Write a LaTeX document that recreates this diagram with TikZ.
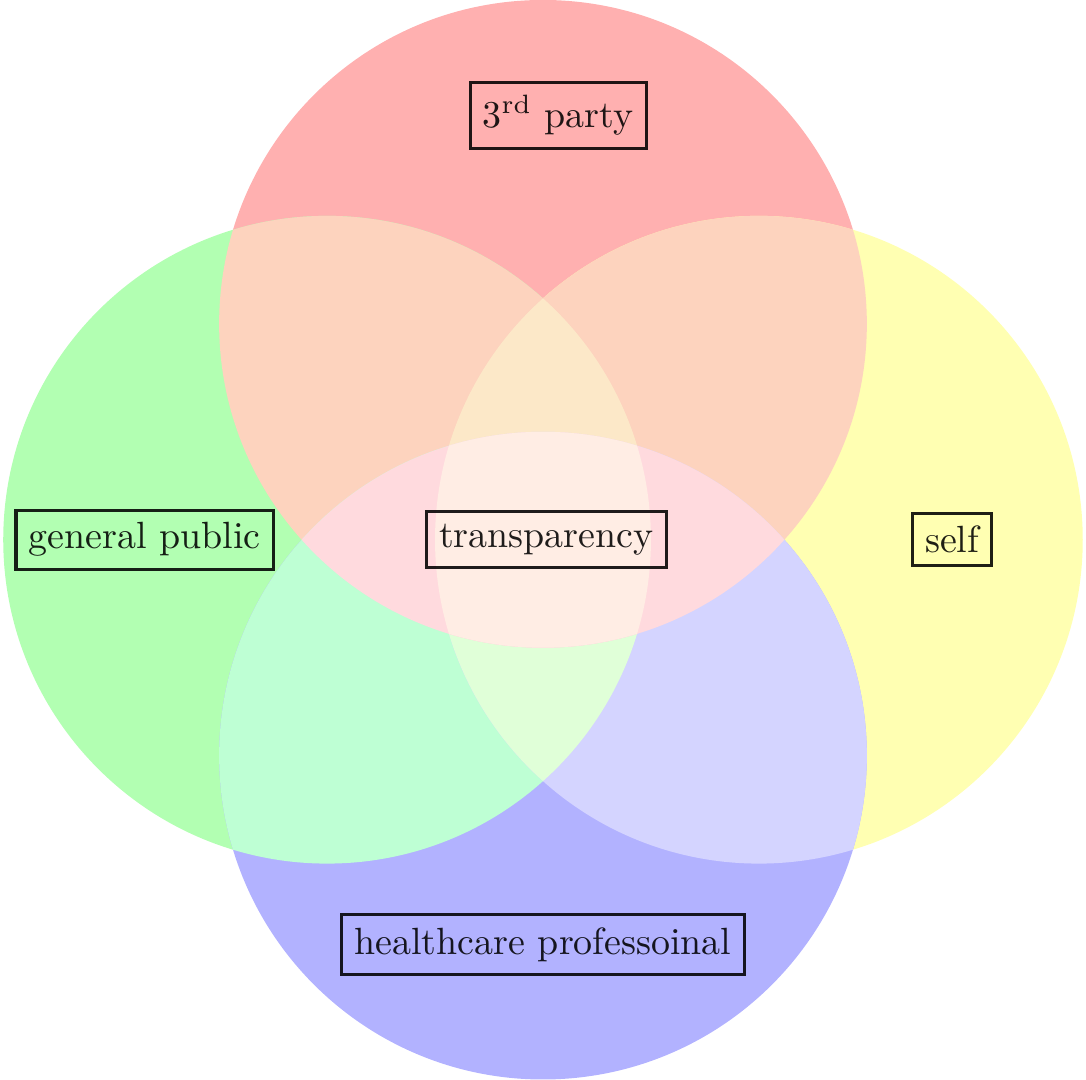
\documentclass[tikz,border=0pt]{standalone}
\usepackage{tikz}
\usetikzlibrary{positioning}
\definecolor{setred}{RGB}{255,176,176}
\definecolor{setgreen}{RGB}{178,255,178}
\definecolor{setyellow}{RGB}{255,255,178}
\definecolor{setblue}{RGB}{178,178,255}
\definecolor{peach}{RGB}{253,211,190}
\definecolor{mint}{RGB}{190,255,212}
\definecolor{lavender}{RGB}{212,212,255}
\definecolor{cream}{RGB}{252,232,200}
\definecolor{palegreen}{RGB}{224,255,216}
\definecolor{pink}{RGB}{255,218,222}
\definecolor{core}{RGB}{255,237,228}
\tikzset{lbl/.style = {draw, thick, opacity = 0.88, inner sep = 3.33pt}}

\begin{document}
\begin{tikzpicture}
      \useasboundingbox (-5.03, -5) rectangle (5.03, 5);
      \coordinate (top) at (0, 2);
      \coordinate (bottom) at (0, -2);
      \coordinate (left) at (-2, 0);
      \coordinate (right) at (2, 0);
      % one set
      \fill [setred] (top) circle [radius=3];
      \fill [setgreen] (left) circle [radius=3];
      \fill [setyellow] (right) circle [radius=3];
      \fill [setblue] (bottom) circle [radius=3];
      % two sets
      \begin{scope}
        \clip (top) circle [radius=3];
        \fill [peach] (left) circle [radius=3];
        \fill [peach] (right) circle [radius=3];
      \end{scope}
      \begin{scope}
        \clip (bottom) circle [radius=3];
        \fill [mint] (left) circle [radius=3];
        \fill [lavender] (right) circle [radius=3];
      \end{scope}
      % three sets
      \begin{scope}
        \clip (left) circle [radius=3];
        \clip (right) circle [radius=3];
        \fill [cream] (top) circle [radius=3];
        \fill [palegreen] (bottom) circle [radius=3];
      \end{scope}
      \begin{scope}
        \clip (top) circle [radius=3];
        \clip (bottom) circle [radius=3];
        \fill [pink] (left) circle [radius=3];
        \fill [pink] (right) circle [radius=3];
      \end{scope}
      % all four
      \begin{scope}
        \clip (top) circle [radius=3];
        \clip (bottom) circle [radius=3];
        \clip (left) circle [radius=3];
        \fill [core] (right) circle [radius=3];
      \end{scope}
      \node [lbl] (third) at (0.14, 3.93) {3\textsuperscript{rd} party};
      \node [lbl] (public) at (-3.69, 0) {general public};
      \node [lbl] (self) at (3.79, 0) {self};
      \node [lbl] (pro) at (0, -3.75) {healthcare professoinal};
      \node [lbl] (centre) at (0.03, 0) {transparency};
    \end{tikzpicture}
\end{document}
